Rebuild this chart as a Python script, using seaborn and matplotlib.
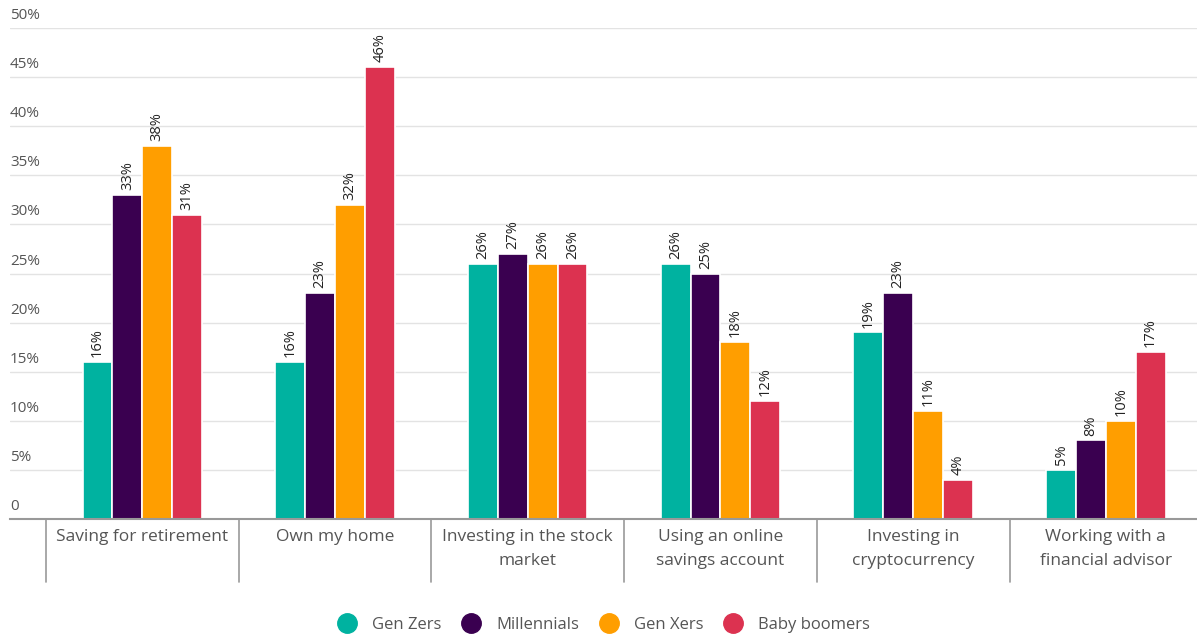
import matplotlib
matplotlib.use("Agg")
import matplotlib.pyplot as plt
import matplotlib.transforms as mtransforms
from matplotlib.lines import Line2D
import seaborn as sns
import pandas as pd

categories = ["Saving for retirement", "Own my home", "Investing in the stock\nmarket",
              "Using an online\nsavings account", "Investing in\ncryptocurrency",
              "Working with a\nfinancial advisor"]
series = ["Gen Zers", "Millennials", "Gen Xers", "Baby boomers"]
gen_zers = [16, 16, 26, 26, 19, 5]
millennials = [33, 23, 27, 25, 23, 8]
gen_xers = [38, 32, 26, 18, 11, 10]
baby_boomers = [31, 46, 26, 12, 4, 17]
yticks = [0, 5, 10, 15, 20, 25, 30, 35, 40, 45, 50]
ytick_labels = ["0", "5%", "10%", "15%", "20%", "25%", "30%", "35%", "40%", "45%", "50%"]
colors = ["#00B2A0", "#3A0050", "#FF9E00", "#DC3250"]

rows = []
for s, vals in zip(series, [gen_zers, millennials, gen_xers, baby_boomers]):
    for c, v in zip(categories, vals):
        rows.append({"category": c, "series": s, "value": v})
df = pd.DataFrame(rows)

sns.set_theme(style="white")
plt.rcParams["font.family"] = ["Open Sans", "DejaVu Sans"]
text_color = "#555555"

fig = plt.figure(figsize=(11.97, 6.37), dpi=100)
W, H = 1197, 637
ax = fig.add_axes([10 / W, 1 - 519 / H, (1197 - 10) / W, (519 - 28) / H])

sns.barplot(data=df, x="category", y="value", hue="series", order=categories,
            hue_order=series, palette=colors, width=0.62, ax=ax,
            edgecolor="white", linewidth=1.2, saturation=1, legend=False)

cw = 192.7
ax.set_xlim(-0.5 - 36 / cw, -0.5 + (1197 - 46) / cw)
ax.set_ylim(0, 50)
ax.set_yticks(yticks)
ax.set_yticklabels([])
ax.tick_params(axis="both", length=0)
ax.set_xticks([])
ax.set_xlabel("")
ax.set_ylabel("")
for sp in ["top", "right", "left"]:
    ax.spines[sp].set_visible(False)
ax.spines["bottom"].set_color("#999999")
ax.spines["bottom"].set_linewidth(1.5)
ax.yaxis.grid(True, color="#e3e3e3", linewidth=1)
ax.set_axisbelow(True)

trans_y = mtransforms.blended_transform_factory(ax.transAxes, ax.transData)
for t, lab in zip(yticks, ytick_labels):
    ax.text(0.0, t + 0.5, lab, transform=trans_y, ha="left", va="bottom",
            fontsize=11, color=text_color)

for cont in ax.containers:
    for bar in cont:
        h = bar.get_height()
        ax.text(bar.get_x() + bar.get_width() / 2, h + 0.5, f"{int(round(h))}%",
                rotation=90, ha="center", va="bottom", fontsize=10.5, color="#222222")

# category separators and labels
trans_x = mtransforms.blended_transform_factory(ax.transData, fig.transFigure)
for i in range(len(categories) + 1):
    xb = i - 0.5
    if xb < 5.4:
        ax.add_line(Line2D([xb, xb], [1 - 519 / H, 1 - 582 / H], transform=trans_x,
                           color="#999999", linewidth=1.2, clip_on=False))
for i, c in enumerate(categories):
    ax.text(i, 1 - 529 / H, c, transform=trans_x, ha="center", va="top",
            fontsize=12.5, color=text_color, linespacing=1.65)

handles = [Line2D([0], [0], marker="o", color="none", markerfacecolor=col,
                  markeredgecolor=col, markersize=14) for col in colors]
fig.legend(handles, series, loc="center", bbox_to_anchor=(600 / W, 1 - 625 / H),
           ncol=4, frameon=False, fontsize=12, labelcolor=text_color,
           handletextpad=0.5, columnspacing=0.8)

fig.savefig("out.png", dpi=100)
